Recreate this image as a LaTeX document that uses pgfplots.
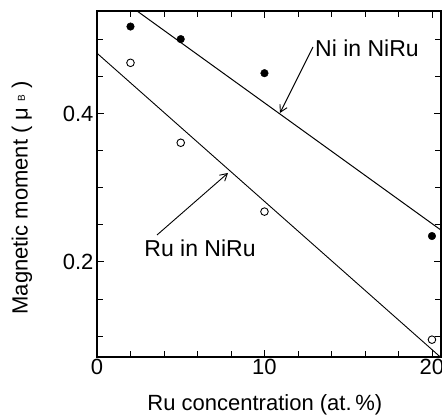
\documentclass[border=0pt]{standalone}
\usepackage{fontspec}
\setmainfont{Liberation Sans}
\usepackage{pgfplots}
\pgfplotsset{compat=1.18}
\usetikzlibrary{arrows.meta}

\begin{document}
\begin{tikzpicture}
\begin{axis}[
  at={(0,0)},anchor=south west,
  scale only axis,width=344pt,height=346pt,
  xmin=0,xmax=20.54,ymin=0.0716,ymax=0.539,
  xtick={0,10,20},minor xtick={2,4,6,8,12,14,16,18},
  ytick={0.2,0.4},minor ytick={0.1,0.15,0.25,0.3,0.35,0.45,0.5},
  xticklabels={0,10,20},yticklabels={0.2,0.4},
  tick align=inside,
  major tick length=7pt,minor tick length=6pt,
  every tick/.style={black,line width=0.9pt},
  axis line style={line width=1.3pt},
  tick label style={font=\fontsize{22}{24}\selectfont},
  xticklabel style={yshift=1pt},
  label style={font=\fontsize{22}{24}\selectfont},
  xlabel={Ru concentration (at.\,\%)},
  ylabel={Magnetic moment ( μ \raisebox{0.25ex}{\fontsize{10}{10}\selectfont B} )},
  xlabel style={at={(axis description cs:0.488,-0.139)},anchor=center},
  ylabel style={at={(axis description cs:-0.218,0.46)},anchor=center},
  clip=true,
]
% Ni in NiRu (filled)
\addplot[only marks,mark=*,mark size=3.8pt,black] coordinates {
 (2,0.518) (5,0.501) (10,0.455) (20,0.235)};
% Ru in NiRu (open)
\addplot[only marks,mark=o,mark size=3.8pt,black,mark options={line width=0.9pt}] coordinates {
 (2,0.469) (5,0.361) (10,0.268) (20,0.095)};
% fit lines
\addplot[black,line width=1pt] coordinates {(0,0.578) (20.54,0.243)};
\addplot[black,line width=0.9pt] coordinates {(0,0.482) (20.54,0.0708)};
\end{axis}
\begin{scope}[x=1pt,y=1pt]
\node[anchor=west,font=\fontsize{23}{25}\selectfont,inner sep=0pt] at (218,309) {Ni in NiRu};
\draw[-{Straight Barb[length=7pt,width=8pt]},line width=0.9pt] (216,310) -- (183,244);
\node[anchor=center,font=\fontsize{23}{25}\selectfont,inner sep=0pt] at (103,109) {Ru in NiRu};
\draw[-{Straight Barb[length=7pt,width=8pt]},line width=0.9pt] (60,122) -- (131,184);
\pgfresetboundingbox
\path[use as bounding box] (-97,-62) rectangle (345,357);
\end{scope}
\end{tikzpicture}
\end{document}
